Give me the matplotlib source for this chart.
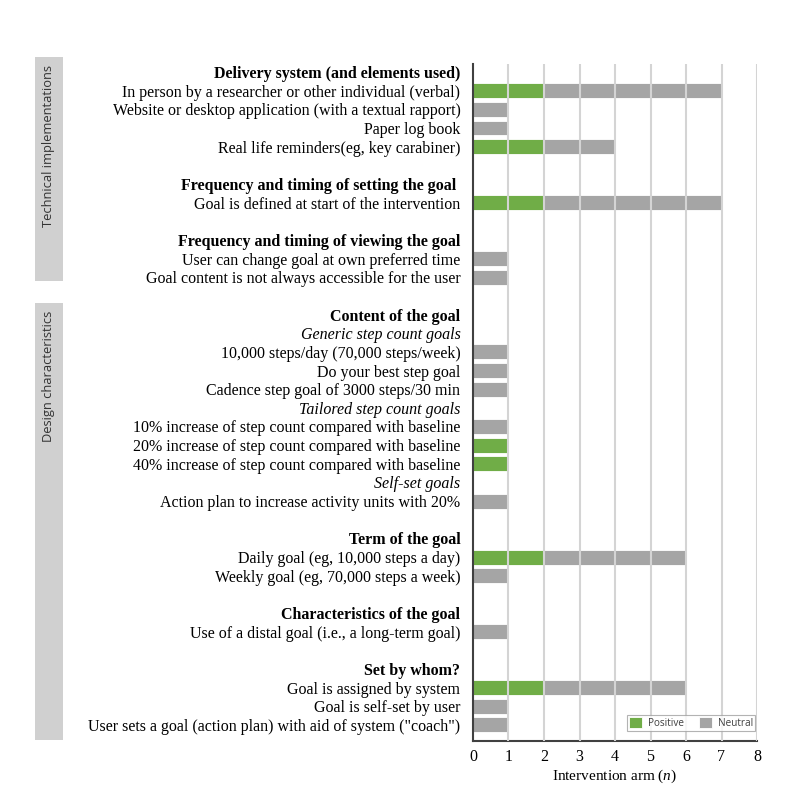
import matplotlib.pyplot as plt
import matplotlib.patches as patches
import numpy as np

# rows of the chart, top to bottom ("" = empty spacer row)
labels = [
    "Delivery system (and elements used)",
    "In person by a researcher or other individual (verbal)",
    "Website or desktop application (with a textual rapport)",
    "Paper log book",
    "Real life reminders(eg, key carabiner)",
    "",
    "Frequency and timing of setting the goal ",
    "Goal is defined at start of the intervention",
    "",
    "Frequency and timing of viewing the goal",
    "User can change goal at own preferred time",
    "Goal content is not always accessible for the user",
    "",
    "Content of the goal",
    "Generic step count goals",
    "10,000 steps/day (70,000 steps/week)",
    "Do your best step goal",
    "Cadence step goal of 3000 steps/30 min",
    "Tailored step count goals",
    "10% increase of step count compared with baseline",
    "20% increase of step count compared with baseline",
    "40% increase of step count compared with baseline",
    "Self-set goals",
    "Action plan to increase activity units with 20%",
    "",
    "Term of the goal",
    "Daily goal (eg, 10,000 steps a day)",
    "Weekly goal (eg, 70,000 steps a week)",
    "",
    "Characteristics of the goal",
    "Use of a distal goal (i.e., a long-term goal)",
    "",
    "Set by whom?",
    "Goal is assigned by system",
    "Goal is self-set by user",
    'User sets a goal (action plan) with aid of system ("coach")',
]
# h = header, s = subgroup, i = item, b = blank
kinds = ["h", "i", "i", "i", "i", "b",
         "h", "i", "b",
         "h", "i", "i", "b",
         "h", "s", "i", "i", "i", "s", "i", "i", "i", "s", "i", "b",
         "h", "i", "i", "b",
         "h", "i", "b",
         "h", "i", "i", "i"]
positive = [0, 2, 0, 0, 2, 0,
            0, 2, 0,
            0, 0, 0, 0,
            0, 0, 0, 0, 0, 0, 0, 1, 1, 0, 0, 0,
            0, 2, 0, 0,
            0, 0, 0,
            0, 2, 0, 0]
neutral = [0, 5, 1, 1, 2, 0,
           0, 5, 0,
           0, 1, 1, 0,
           0, 0, 1, 1, 1, 0, 1, 0, 0, 0, 1, 0,
           0, 4, 1, 0,
           0, 1, 0,
           0, 4, 1, 1]
groups = ["Technical implementations", "Design characteristics"]

green = "#70AD47"
grey = "#A5A5A5"
serif = "Liberation Serif"
plt.rcParams["mathtext.fontset"] = "custom"
plt.rcParams["mathtext.it"] = "Liberation Serif:italic"
plt.rcParams["mathtext.rm"] = "Liberation Serif"

fig = plt.figure(figsize=(7.97, 8), dpi=100)
ax = fig.add_axes([473/797, 1-741/800, (757-473)/797, (741-64)/800])

y = np.arange(len(labels))
pos = np.array(positive)
neu = np.array(neutral)
ax.barh(y, pos, height=0.8, color=green, edgecolor="white", linewidth=0.6, label="Positive", zorder=2)
ax.barh(y, neu, left=pos, height=0.8, color=grey, edgecolor="white", linewidth=0.6, label="Neutral", zorder=2)

ax.set_ylim(len(labels) - 1 + 0.86, -0.43)
ax.set_xlim(0, 8)
ax.set_xticks(range(9))
for v in range(1, 9):
    ax.axvline(v, color="#d4d4d4", lw=1.5, zorder=3)

ax.set_yticks(y)
ax.set_yticklabels(labels)
for lab, k in zip(ax.get_yticklabels(), kinds):
    lab.set_family(serif)
    lab.set_fontsize(11.5)
    if k == "h":
        lab.set_fontweight("bold")
    elif k == "s":
        lab.set_fontstyle("italic")
ax.tick_params(axis="y", length=0, pad=9)
ax.tick_params(axis="x", length=0, pad=6)
for lab in ax.get_xticklabels():
    lab.set_family(serif)
    lab.set_fontsize(11.5)

ax.set_xlabel("Intervention arm ($\\it{n}$)", family=serif, fontsize=11, labelpad=2)

for s in ["top", "right"]:
    ax.spines[s].set_visible(False)
for s in ["left", "bottom"]:
    ax.spines[s].set_color("#404040")
    ax.spines[s].set_linewidth(1.5)

leg = ax.legend(loc="lower right", bbox_to_anchor=(0.993, 0.015), ncol=2, frameon=True,
                fancybox=False, handlelength=1.3, handleheight=1.3, columnspacing=1.5,
                handletextpad=0.6, borderpad=0.2, borderaxespad=0,
                prop={"family": "Open Sans", "size": 7.2})
leg.get_frame().set_edgecolor("#a0a0a0")
leg.get_frame().set_linewidth(0.8)
for t in leg.get_texts():
    t.set_color("#404040")

# grey side bands for the two groups
bands = [(57, 281), (303, 740)]
for name, (top, bot) in zip(groups, bands):
    x0, x1 = 35/797, 63/797
    fig.patches.append(patches.Rectangle((x0, 1-bot/800), x1-x0, (bot-top)/800,
                                         transform=fig.transFigure, facecolor="#d0d0d0",
                                         edgecolor="none"))
    fig.text((x0+x1)/2, 1-(top+8)/800, name, rotation=90, ha="center", va="top",
             family="Open Sans", fontsize=9.3, color="#333333")

plt.savefig("out.png", dpi=100)
